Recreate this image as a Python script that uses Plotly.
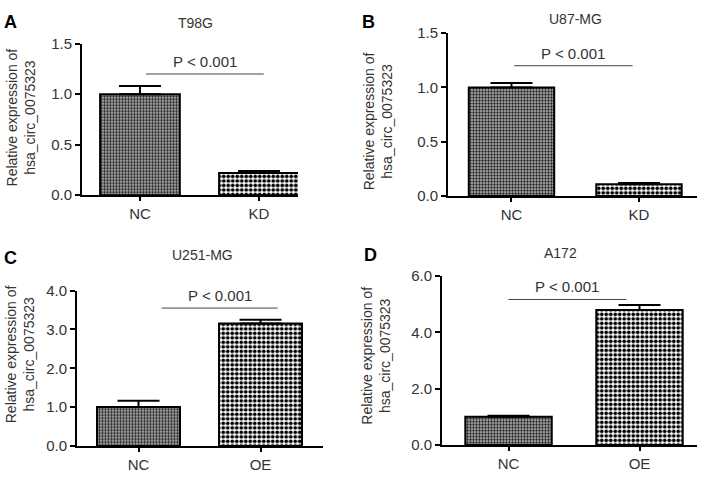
import plotly.graph_objects as go

W, H = 708, 478

# ---- data ----
cats_kd = ["NC", "KD"]
cats_oe = ["NC", "OE"]
t98g_vals = [1.00, 0.22]
t98g_err = [0.08, 0.02]
u87_vals = [1.00, 0.11]
u87_err = [0.04, 0.01]
u251_vals = [1.00, 3.15]
u251_err = [0.16, 0.10]
a172_vals = [1.00, 4.80]
a172_err = [0.04, 0.17]
panel_titles = ["T98G", "U87-MG", "U251-MG", "A172"]
panel_letters = ["A", "B", "C", "D"]
sig_text = "P < 0.001"
sig_levels = [1.20, 1.20, 3.55, 5.17]
y_ranges = [[0, 1.5], [0, 1.5], [0, 4.0], [0, 6.0]]
y_tickvals = [[0, 0.5, 1.0, 1.5], [0, 0.5, 1.0, 1.5], [0, 1, 2, 3, 4], [0, 2, 4, 6]]
y_ticktext = [["0.0", "0.5", "1.0", "1.5"], ["0.0", "0.5", "1.0", "1.5"],
              ["0.0", "1.0", "2.0", "3.0", "4.0"], ["0.0", "2.0", "4.0", "6.0"]]
ytitle = "Relative expression of<br>hsa_circ_0075323"

panels = [
    dict(cats=cats_kd, vals=t98g_vals, err=t98g_err),
    dict(cats=cats_kd, vals=u87_vals, err=u87_err),
    dict(cats=cats_oe, vals=u251_vals, err=u251_err),
    dict(cats=cats_oe, vals=a172_vals, err=a172_err),
]

# ---- layout geometry (pixels) ----
geo = [
    dict(xl=82, xr=298, y0=193, yt=36, xrange=[-0.487, 1.328], bw=0.67, sig=(0.05, 1.04),
         title=(195, 14), letter=(10, 13), ylab=(10, 31, 113)),
    dict(xl=448, xr=697, y0=194, yt=25, xrange=[-0.498, 1.455], bw=0.67, sig=(0.02, 0.95),
         title=(575, 10), letter=(368, 13), ylab=(368, 387, 117)),
    dict(xl=77, xr=323, y0=453, yt=292, xrange=[-0.504, 1.512], bw=0.68, sig=(0.19, 1.14),
         title=(202, 255), letter=(10, 258), ylab=(10, 30, 358)),
    dict(xl=442, xr=697, y0=452, yt=277, xrange=[-0.508, 1.439], bw=0.66, sig=(0.0, 0.90),
         title=(560, 253), letter=(370, 255), ylab=(366, 387, 360)),
]

FONT = "Liberation Sans, Arial, sans-serif"
TXT = "#333333"

fig = go.Figure()
annotations = []
shapes = []

pat_nc = dict(shape=".", fgcolor="#222222", bgcolor="#bdbdbd", size=3, solidity=0.5)
pat_tr = dict(shape=".", fgcolor="#000000", bgcolor="#ffffff", size=4.5, solidity=0.55)

for i, (p, g) in enumerate(zip(panels, geo)):
    n = "" if i == 0 else str(i + 1)
    xa, ya = "x" + n, "y" + n
    fig.add_trace(go.Bar(
        x=[0, 1], y=p["vals"], width=g["bw"],
        xaxis=xa, yaxis=ya,
        marker=dict(color="#ffffff", line=dict(color="black", width=2),
                    pattern=dict(shape=[pat_nc["shape"], pat_tr["shape"]],
                                 fgcolor=[pat_nc["fgcolor"], pat_tr["fgcolor"]],
                                 bgcolor=[pat_nc["bgcolor"], pat_tr["bgcolor"]],
                                 size=[pat_nc["size"], pat_tr["size"]],
                                 solidity=[pat_nc["solidity"], pat_tr["solidity"]],
                                 fillmode="replace")),
        error_y=dict(type="data", symmetric=False, array=p["err"], arrayminus=[0, 0],
                     color="black", thickness=2, width=21),
        showlegend=False, hoverinfo="skip",
    ))
    xdom = [g["xl"] / W, g["xr"] / W]
    ydom = [(H - g["y0"]) / H, (H - g["yt"]) / H]
    fig.update_layout(**{
        "xaxis" + n: dict(domain=xdom, range=g["xrange"], anchor=ya,
                          tickmode="array", tickvals=[0, 1], ticktext=p["cats"],
                          showline=True, linecolor="black", linewidth=2,
                          ticks="outside", ticklen=4, tickwidth=2, tickcolor="black",
                          showgrid=False, zeroline=False, fixedrange=True,
                          tickfont=dict(family=FONT, size=15, color=TXT)),
        "yaxis" + n: dict(domain=ydom, range=y_ranges[i], anchor=xa,
                          tickmode="array", tickvals=y_tickvals[i], ticktext=y_ticktext[i],
                          showline=True, linecolor="black", linewidth=2,
                          ticks="outside", ticklen=5, tickwidth=2, tickcolor="black",
                          showgrid=False, zeroline=False, fixedrange=True,
                          tickfont=dict(family=FONT, size=15, color=TXT)),
    })
    s0, s1 = g["sig"]
    shapes.append(dict(type="line", xref=xa, yref=ya, x0=s0, x1=s1,
                       y0=sig_levels[i], y1=sig_levels[i],
                       line=dict(color="#444444", width=1)))
    annotations.append(dict(xref=xa, yref=ya, x=(s0 + s1) / 2, y=sig_levels[i],
                            text=sig_text, showarrow=False, yanchor="bottom", yshift=2,
                            font=dict(family=FONT, size=15, color=TXT)))
    tx, ty = g["title"]
    annotations.append(dict(xref="paper", yref="paper", x=tx / W, y=1 - ty / H,
                            text=panel_titles[i], showarrow=False,
                            xanchor="center", yanchor="middle",
                            font=dict(family=FONT, size=14, color=TXT)))
    lx, ly = g["letter"]
    annotations.append(dict(xref="paper", yref="paper", x=lx / W, y=1 - ly / H,
                            text="<b>" + panel_letters[i] + "</b>", showarrow=False,
                            xanchor="center", yanchor="middle",
                            font=dict(family=FONT, size=18, color="black")))
    l1, l2, yc = g["ylab"]
    annotations.append(dict(xref="paper", yref="paper", x=(l1 + l2) / 2 / W, y=1 - yc / H,
                            text=ytitle, showarrow=False, textangle=-90,
                            xanchor="center", yanchor="middle",
                            font=dict(family=FONT, size=14, color=TXT)))

fig.update_layout(
    width=W, height=H,
    margin=dict(l=0, r=0, t=0, b=0),
    paper_bgcolor="white", plot_bgcolor="white",
    annotations=annotations, shapes=shapes,
)

fig.write_html("out.html", config={"displayModeBar": False, "staticPlot": True},
               post_script="document.body.style.margin='0';document.body.style.overflow='hidden';")
